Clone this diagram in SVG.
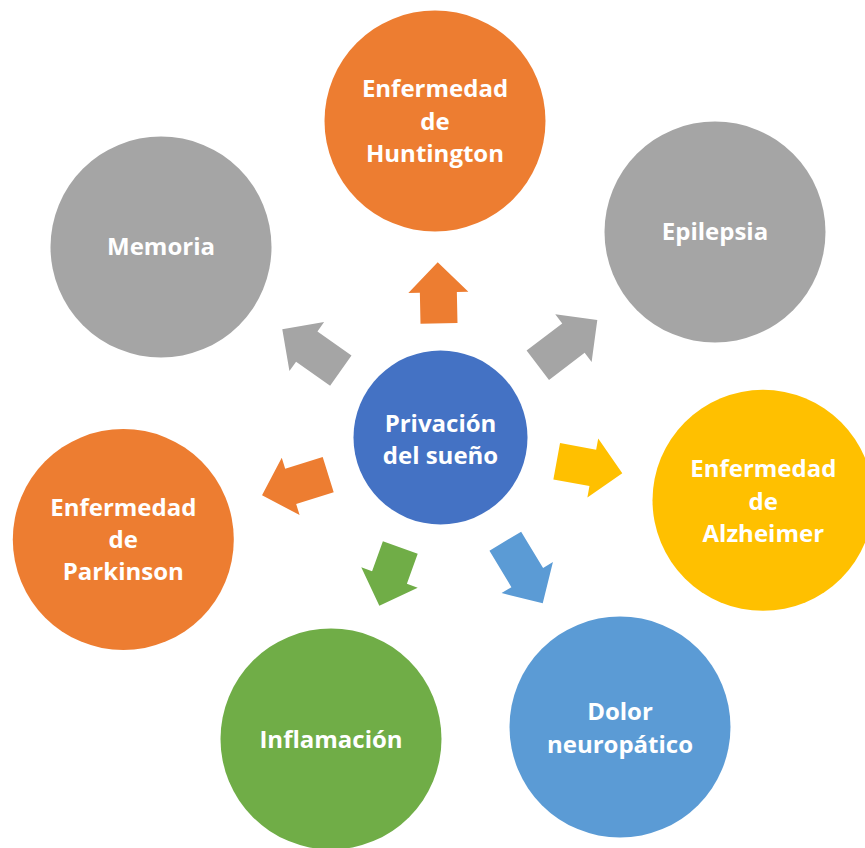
<svg xmlns="http://www.w3.org/2000/svg" width="865" height="848" viewBox="0 0 865 848">
  <style>
    .lbl { font-family: "Open Sans", "Liberation Sans", sans-serif; font-weight: 700; font-size: 24px; fill: #FFFFFF; text-anchor: middle; }
    .orange { fill: #ED7D31; }
    .gray { fill: #A5A5A5; }
    .yellow { fill: #FFC000; }
    .blue { fill: #5B9BD5; }
    .green { fill: #70AD47; }
    .navy { fill: #4472C4; }
  </style>
  <rect width="865" height="848" fill="#FFFFFF"/>

  <!-- block arrows: local shape points along +x, base at origin -->
  <g id="connectors">
    <polygon class="orange" transform="translate(439,323.3) rotate(-91.2)" points="0,-18.5 31,-18.5 31,-30 61,0 31,30 31,18.5 0,18.5"/>
    <polygon class="gray" transform="translate(537.8,365.3) rotate(-37.3)" points="0,-18.5 44.8,-18.5 44.8,-30 74.8,0 44.8,30 44.8,18.5 0,18.5"/>
    <polygon class="yellow" transform="translate(556.7,461.3) rotate(10.4)" points="0,-18.5 36.7,-18.5 36.7,-30 66.7,0 36.7,30 36.7,18.5 0,18.5"/>
    <polygon class="blue" transform="translate(505.3,541.2) rotate(58.9)" points="0,-18.5 42.5,-18.5 42.5,-30 72.5,0 42.5,30 42.5,18.5 0,18.5"/>
    <polygon class="green" transform="translate(400.3,547.5) rotate(109.8)" points="0,-18.5 31.9,-18.5 31.9,-30 61.9,0 31.9,30 31.9,18.5 0,18.5"/>
    <polygon class="orange" transform="translate(328.2,474.7) rotate(162.7)" points="0,-18.5 39.3,-18.5 39.3,-30 69.3,0 39.3,30 39.3,18.5 0,18.5"/>
    <polygon class="gray" transform="translate(340.8,370.7) rotate(-144.7)" points="0,-18.5 41.7,-18.5 41.7,-30 71.7,0 41.7,30 41.7,18.5 0,18.5"/>
  </g>

  <g id="center">
    <circle class="navy" cx="440.5" cy="437.5" r="87"/>
    <text class="lbl" x="440.5" y="431.5">Privación</text>
    <text class="lbl" x="440.5" y="463.5">del sueño</text>
  </g>

  <g id="huntington">
    <circle class="orange" cx="435" cy="121" r="110.5"/>
    <text class="lbl" x="435" y="97">Enfermedad</text>
    <text class="lbl" x="435" y="129.5">de</text>
    <text class="lbl" x="435" y="161.5">Huntington</text>
  </g>

  <g id="epilepsia">
    <circle class="gray" cx="715" cy="232" r="110.5"/>
    <text class="lbl" x="715" y="240">Epilepsia</text>
  </g>

  <g id="alzheimer">
    <circle class="yellow" cx="763" cy="500.3" r="110.5"/>
    <text class="lbl" x="763.3" y="477">Enfermedad</text>
    <text class="lbl" x="763.3" y="509.5">de</text>
    <text class="lbl" x="763.3" y="541.5">Alzheimer</text>
  </g>

  <g id="dolor">
    <circle class="blue" cx="620" cy="727" r="110.5"/>
    <text class="lbl" x="620" y="720">Dolor</text>
    <text class="lbl" x="620" y="753">neuropático</text>
  </g>

  <g id="inflamacion">
    <circle class="green" cx="331" cy="739" r="110.5"/>
    <text class="lbl" x="331" y="748">Inflamación</text>
  </g>

  <g id="parkinson">
    <circle class="orange" cx="123.3" cy="539.5" r="110.5"/>
    <text class="lbl" x="123.3" y="515.5">Enfermedad</text>
    <text class="lbl" x="123.3" y="548">de</text>
    <text class="lbl" x="123.3" y="579.5">Parkinson</text>
  </g>

  <g id="memoria">
    <circle class="gray" cx="161" cy="247" r="110.5"/>
    <text class="lbl" x="161" y="255">Memoria</text>
  </g>
</svg>
